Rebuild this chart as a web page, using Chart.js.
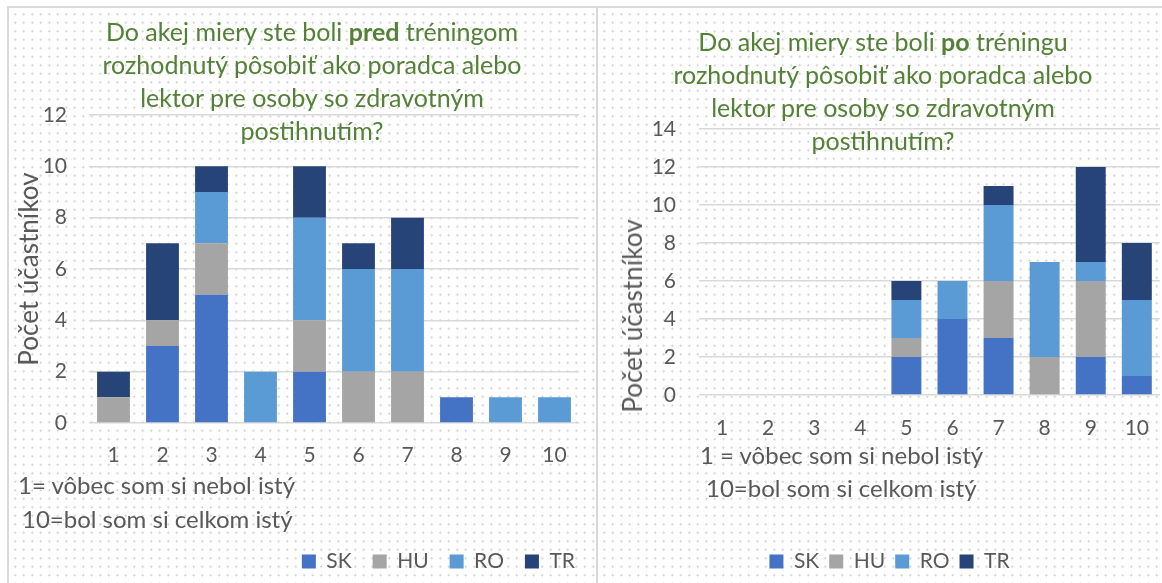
<!DOCTYPE html>
<html><head><meta charset="utf-8">
<script src="https://cdn.jsdelivr.net/npm/chart.js@4.4.1/dist/chart.umd.min.js"></script>
<style>
html,body{margin:0;padding:0;background:#fff;overflow:hidden;width:1162px;height:583px;position:relative;}
.panel{position:absolute;background-color:#fff;background-image:radial-gradient(circle, #cccccc 0, #cccccc 0.8px, rgba(255,255,255,0) 1.3px);background-size:8.5px 8.5px;background-position:2px 2px;}
#pl{left:7px;top:6px;width:587px;height:600px;border-left:2px solid #d9d9d9;border-top:2px solid #d9d9d9;}
#pr{left:596px;top:6px;width:580px;height:600px;border-left:2px solid #d9d9d9;border-top:2px solid #d9d9d9;}
canvas{position:absolute;top:0;}
#cl{left:0;}
#cr{left:597px;}
.title{position:absolute;color:#538135;font-family:Lato,"Open Sans",sans-serif;font-size:25px;line-height:33px;text-align:center;white-space:nowrap;transform:translateX(-50%);}
.title b{font-weight:700;}
.note{position:absolute;color:#595959;font-family:Lato,"Open Sans",sans-serif;font-size:24px;line-height:28px;white-space:nowrap;}
.ytitle{position:absolute;color:#595959;font-family:Lato,"Open Sans",sans-serif;font-size:26px;line-height:30px;white-space:nowrap;transform:translate(-50%,-50%) rotate(-90deg);}
</style></head>
<body>
<div class="panel" id="pl"></div>
<div class="panel" id="pr"></div>
<canvas id="cl" width="596" height="583"></canvas>
<canvas id="cr" width="565" height="583"></canvas>
<div class="title" style="left:312px;top:15px;">Do akej miery ste boli <b>pred</b> tréningom<br>rozhodnutý pôsobiť ako poradca alebo<br>lektor pre osoby so zdravotným<br>postihnutím?</div>
<div class="title" style="left:883px;top:25px;">Do akej miery ste boli <b>po</b> tréningu<br>rozhodnutý pôsobiť ako poradca alebo<br>lektor pre osoby so zdravotným<br>postihnutím?</div>
<div class="note" style="left:18px;top:471px;">1= vôbec som si nebol istý</div>
<div class="note" style="left:22px;top:505px;">10=bol som si celkom istý</div>
<div class="note" style="left:700px;top:441px;">1 = vôbec som si nebol istý</div>
<div class="note" style="left:706px;top:474px;">10=bol som si celkom istý</div>
<div class="ytitle" style="left:632px;top:316px;">Počet účastníkov</div>
<script>
const categories = ['1','2','3','4','5','6','7','8','9','10'];
const seriesNames = ['SK','HU','RO','TR'];
const seriesColors = ['#4472C4','#A5A5A5','#5B9BD5','#264478'];

// Before training (pred)
const predSK = [0,3,5,0,2,0,0,1,0,0];
const predHU = [1,1,2,0,2,2,2,0,0,0];
const predRO = [0,0,2,2,4,4,4,0,1,1];
const predTR = [1,3,1,0,2,1,2,0,0,0];

// After training (po)
const poSK = [0,0,0,0,2,4,3,0,2,1];
const poHU = [0,0,0,0,1,0,3,2,4,0];
const poRO = [0,0,0,0,2,2,4,5,1,4];
const poTR = [0,0,0,0,1,0,1,0,5,3];

const yTicksPred = {max:12, step:2};
const yTicksPo = {max:14, step:2};

const FONT = 'Lato';
const GREY = '#595959';

function build(canvasId, series, cfg) {
  const datasets = series.map((vals, i) => ({
    label: seriesNames[i],
    data: vals,
    backgroundColor: seriesColors[i],
    borderWidth: 0,
    barPercentage: cfg.barPct,
    categoryPercentage: 1.0,
    stack: 's'
  }));
  return new Chart(document.getElementById(canvasId), {
    type: 'bar',
    data: {labels: categories, datasets},
    options: {
      responsive: false,
      animation: false,
      devicePixelRatio: 1,
      layout: {padding: cfg.padding},
      plugins: {
        title: {display: false},
        tooltip: {enabled: false},
        legend: {
          position: 'bottom',
          align: cfg.legendAlign,
          labels: {
            boxWidth: 14, boxHeight: 14,
            padding: cfg.legendPad,
            color: GREY,
            font: {family: FONT, size: 21}
          }
        }
      },
      scales: {
        x: {
          stacked: true,
          grid: {display: false},
          border: {display: false},
          ticks: {color: GREY, font: {family: FONT, size: 21}, padding: cfg.xTickPad, maxRotation: 0},
          afterFit: s => { s.height = cfg.xHeight; }
        },
        y: {
          stacked: true,
          min: 0, max: cfg.yMax,
          grid: {color: '#d9d9d9', lineWidth: 1.5, drawTicks: false},
          border: {display: false},
          ticks: {stepSize: cfg.yStep, color: GREY, font: {family: FONT, size: 21}, padding: cfg.yTickPad},
          title: cfg.yTitle ? {display: true, text: 'Počet účastníkov', color: GREY, font: {family: FONT, size: 26, weight: 'normal'}, padding: {top: 14, bottom: 0}} : {display: false},
          afterFit: s => { s.width = cfg.yWidth; }
        },
        ...(cfg.rightGap ? {
          yR: {
            position: 'right', display: true,
            grid: {display: false}, border: {display: false},
            ticks: {display: false},
            afterFit: s => { s.width = cfg.rightGap; }
          }
        } : {})
      }
    }
  });
}

build('cl', [predSK, predHU, predRO, predTR], {
  barPct: 0.67,
  padding: {left: 0, right: 0, top: 115, bottom: 1},
  legendAlign: 'end',
  legendPad: 21,
  xTickPad: 12,
  xHeight: 107,
  yMax: yTicksPred.max, yStep: yTicksPred.step,
  yTickPad: 22,
  yTitle: true,
  yWidth: 89,
  rightGap: 17
});

build('cr', [poSK, poHU, poRO, poTR], {
  barPct: 0.65,
  padding: {left: 20, right: 0, top: 129, bottom: 1},
  legendAlign: 'center',
  legendPad: 10,
  xTickPad: 13,
  xHeight: 146,
  yMax: yTicksPo.max, yStep: yTicksPo.step,
  yTickPad: 23,
  yTitle: false,
  yWidth: 82,
  rightGap: 0
});
</script>
</body></html>
